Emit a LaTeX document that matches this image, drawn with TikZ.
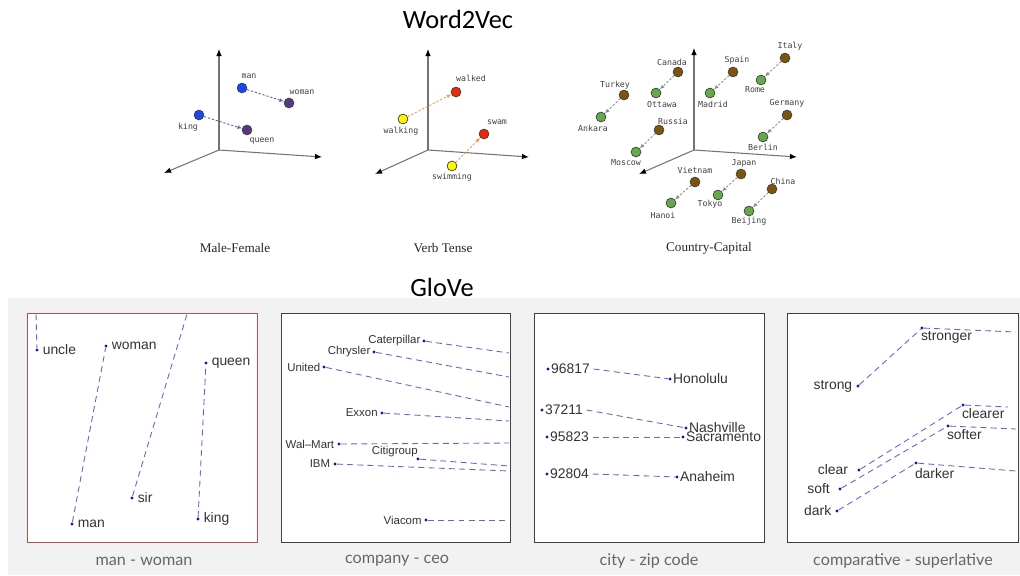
\documentclass[tikz,border=0pt]{standalone}
\usepackage{fontspec}
\setmainfont{Liberation Sans}
\newfontfamily\titlefont{Carlito}
\newfontfamily\wmono{DejaVu Sans Mono}
\newfontfamily\capfont{Liberation Serif}
\newfontfamily\gcapfont{Lato}
\usepackage{xcolor}
\usepackage{tikz}
\usetikzlibrary{arrows.meta, positioning}
\definecolor{W2VBlue}{RGB}{25,70,245}
\definecolor{W2VPurple}{RGB}{85,55,130}
\definecolor{W2VArrowPurple}{RGB}{110,90,175}
\definecolor{W2VYellow}{RGB}{255,245,0}
\definecolor{W2VRed}{RGB}{240,40,10}
\definecolor{W2VOrange}{RGB}{240,150,80}
\definecolor{W2VGreen}{RGB}{100,170,70}
\definecolor{W2VBrown}{RGB}{125,85,10}
\definecolor{GloVeLine}{RGB}{100,100,210}
\definecolor{GloVeDot}{RGB}{20,20,170}
\definecolor{GloVeBack}{RGB}{242,242,242}
\definecolor{GloVeRed}{RGB}{185,80,75}

\begin{document}
\begin{tikzpicture}[
    x=0.02cm, y=-0.02cm,
    axis/.style={draw=black!55, line width=0.6pt, -{Latex[length=4pt, width=3.2pt, color=black]}},
    wdot/.style={circle, draw=black!75, line width=0.4pt, minimum size=5.6pt, inner sep=0pt},
    wlabel/.style={font=\wmono\fontsize{4.7}{5.5}\selectfont, text=black!75, inner sep=0pt},
    warrow/.style={line width=0.5pt, dash pattern=on 1.3pt off 1pt, -{Latex[length=2.6pt, width=2.2pt]}},
    carrow/.style={warrow, draw=black!45},
    wcap/.style={font=\capfont\fontsize{7.5}{9}\selectfont, text=black!85},
    wtitle/.style={font=\titlefont\fontsize{15}{18}\selectfont},
    gbox/.style={draw=black!75, fill=white, line width=0.5pt},
    gdot/.style={circle, fill=GloVeDot, minimum size=1.8pt, inner sep=0pt},
    gline/.style={draw=GloVeLine, line width=0.5pt, dash pattern=on 3.4pt off 2.4pt},
    glabel/.style={font=\fontsize{7.9}{9}\selectfont, text=black!80, inner sep=0pt},
    gsmall/.style={font=\fontsize{6.5}{8}\selectfont, text=black!80, inner sep=0pt},
    gcap/.style={font=\gcapfont\fontsize{9.2}{11}\selectfont, text=black!60}
]
\useasboundingbox (0,0) rectangle (1020,575);
\fill[GloVeBack] (8,298) rectangle (1020,575);

\node[wtitle] (w2v) at (458,19) {Word2Vec};
\node[wtitle] (glove) at (442,287) {GloVe};

% Male-Female
\coordinate (o1) at (219,150);
\draw[axis] (o1) -- ++(0,-101);
\draw[axis] (o1) -- ++(103,7);
\draw[axis] (o1) -- ++(-55,23);
\node[wdot, fill=W2VBlue] (man) at (242,88) {};
\node[wdot, fill=W2VPurple] (woman) at (289,103) {};
\node[wdot, fill=W2VBlue] (king) at (199,115) {};
\node[wdot, fill=W2VPurple] (queen) at (247,130) {};
\node[wlabel] at (249,76) {man};
\node[wlabel] at (302,92) {woman};
\node[wlabel] at (188,127) {king};
\node[wlabel] at (262,141) {queen};
\draw[warrow, W2VArrowPurple] (man) -- (woman);
\draw[warrow, W2VArrowPurple] (king) -- (queen);
\node[wcap] (capMF) at (235,248) {Male-Female};

% Verb Tense
\coordinate (o2) at (428,150);
\draw[axis] (o2) -- ++(0,-101);
\draw[axis] (o2) -- ++(101,7);
\draw[axis] (o2) -- ++(-53,24);
\node[wdot, fill=W2VRed] (walked) at (456,92) {};
\node[wdot, fill=W2VYellow] (walking) at (403,119) {};
\node[wdot, fill=W2VRed] (swam) at (484,134) {};
\node[wdot, fill=W2VYellow] (swimming) at (452,166) {};
\node[wlabel] at (471,78) {walked};
\node[wlabel] at (401,131) {walking};
\node[wlabel] at (497,122) {swam};
\node[wlabel] at (452,177) {swimming};
\draw[warrow, W2VOrange] (walking) -- (walked);
\draw[warrow, W2VOrange] (swimming) -- (swam);
\node[wcap] (capVT) at (443,248) {Verb Tense};

% Country-Capital
\coordinate (o3) at (694,150);
\draw[axis] (o3) -- ++(0,-102);
\draw[axis] (o3) -- ++(103,7);
\draw[axis] (o3) -- ++(-55,24);
\node[wdot, fill=W2VBrown] (canada) at (678,72) {};
\node[wdot, fill=W2VGreen] (ottawa) at (656,93) {};
\node[wdot, fill=W2VBrown] (turkey) at (624,95) {};
\node[wdot, fill=W2VGreen] (ankara) at (601,117) {};
\node[wdot, fill=W2VBrown] (spain) at (733,72) {};
\node[wdot, fill=W2VGreen] (madrid) at (710,93) {};
\node[wdot, fill=W2VBrown] (italy) at (785,58) {};
\node[wdot, fill=W2VGreen] (rome) at (761,80) {};
\node[wdot, fill=W2VBrown] (germany) at (787,115) {};
\node[wdot, fill=W2VGreen] (berlin) at (763,137) {};
\node[wdot, fill=W2VBrown] (russia) at (659,130) {};
\node[wdot, fill=W2VGreen] (moscow) at (636,152) {};
\node[wdot, fill=W2VBrown] (vietnam) at (695,182) {};
\node[wdot, fill=W2VGreen] (hanoi) at (671,203) {};
\node[wdot, fill=W2VBrown] (japan) at (741,174) {};
\node[wdot, fill=W2VGreen] (tokyo) at (718,195) {};
\node[wdot, fill=W2VBrown] (china) at (772,189) {};
\node[wdot, fill=W2VGreen] (beijing) at (749,211) {};
\node[wlabel] at (672,62) {Canada};
\node[wlabel] at (662,104) {Ottawa};
\node[wlabel] at (615,85) {Turkey};
\node[wlabel] at (593,128) {Ankara};
\node[wlabel] at (737,60) {Spain};
\node[wlabel] at (713,104) {Madrid};
\node[wlabel] at (790,46) {Italy};
\node[wlabel] at (755,90) {Rome};
\node[wlabel] at (787,103) {Germany};
\node[wlabel] at (763,147) {Berlin};
\node[wlabel] at (673,121) {Russia};
\node[wlabel] at (626,163) {Moscow};
\node[wlabel] at (695,170) {Vietnam};
\node[wlabel] at (663,215) {Hanoi};
\node[wlabel] at (744,163) {Japan};
\node[wlabel] at (710,204) {Tokyo};
\node[wlabel] at (783,181) {China};
\node[wlabel] at (749,221) {Beijing};
\draw[carrow] (canada) -- (ottawa);
\draw[carrow] (turkey) -- (ankara);
\draw[carrow] (spain) -- (madrid);
\draw[carrow] (italy) -- (rome);
\draw[carrow] (germany) -- (berlin);
\draw[carrow] (russia) -- (moscow);
\draw[carrow] (vietnam) -- (hanoi);
\draw[carrow] (japan) -- (tokyo);
\draw[carrow] (china) -- (beijing);
\node[wcap] (capCC) at (709,248) {Country-Capital};

% man - woman
\draw[gbox, draw=GloVeRed] (27,313) rectangle (257,542);
\coordinate (uncleEnd) at (36,314);
\coordinate (sirEnd) at (187,314);
\node[gdot] (uncle) at (37,350) {};
\node[gdot] (gwoman) at (106,346) {};
\node[gdot] (gman) at (72,524) {};
\node[gdot] (sir) at (132,498) {};
\node[gdot] (gqueen) at (206,363) {};
\node[gdot] (gking) at (198,519) {};
\node[glabel, right=2pt of uncle] {uncle};
\node[glabel, right=2pt of gwoman] {woman};
\node[glabel, right=2pt of gman] {man};
\node[glabel, right=2pt of sir] {sir};
\node[glabel, right=2pt of gqueen] {queen};
\node[glabel, right=2pt of gking] {king};
\draw[gline] (uncleEnd) -- (uncle);
\draw[gline] (gman) -- (gwoman);
\draw[gline] (sir) -- (sirEnd);
\draw[gline] (gking) -- (gqueen);
\node[gcap] (capMW) at (144,561) {man - woman};

% company - ceo
\draw[gbox] (281,313) rectangle (510,542);
\node[gdot] (caterpillar) at (424,341) {};
\node[gdot] (chrysler) at (374,352) {};
\node[gdot] (united) at (324,367) {};
\node[gdot] (exxon) at (382,413) {};
\node[gdot] (walmart) at (339,444) {};
\node[gdot] (citigroup) at (418,459) {};
\node[gdot] (ibm) at (335,464) {};
\node[gdot] (viacom) at (426,520) {};
\coordinate (caterpillarEnd) at (509,353);
\coordinate (chryslerEnd) at (509,377);
\coordinate (unitedEnd) at (509,407);
\coordinate (exxonEnd) at (509,421);
\coordinate (walmartEnd) at (509,443);
\coordinate (citigroupEnd) at (509,466);
\coordinate (ibmEnd) at (509,471);
\coordinate (viacomEnd) at (509,520);
\node[gsmall, left=0.8pt of caterpillar] {Caterpillar};
\node[gsmall, left=0.8pt of chrysler] {Chrysler};
\node[gsmall, left=0.8pt of united] {United};
\node[gsmall, left=1.2pt of exxon] {Exxon};
\node[gsmall, left=1.5pt of walmart] {Wal--Mart};
\node[gsmall, anchor=south east] at (citigroup.north) {Citigroup};
\node[gsmall, left=1.5pt of ibm] {IBM};
\node[gsmall, left=1.2pt of viacom] {Viacom};
\draw[gline] (caterpillar) -- (caterpillarEnd);
\draw[gline] (chrysler) -- (chryslerEnd);
\draw[gline] (united) -- (unitedEnd);
\draw[gline] (exxon) -- (exxonEnd);
\draw[gline] (walmart) -- (walmartEnd);
\draw[gline] (citigroup) -- (citigroupEnd);
\draw[gline] (ibm) -- (ibmEnd);
\draw[gline] (viacom) -- (viacomEnd);
\node[gcap] (capCE) at (397,561) {company - ceo};

% city - zip code
\draw[gbox] (534,313) rectangle (764,542);
\node[gdot] (d96817) at (548,369) {};
\node[gdot] (d37211) at (542,410) {};
\node[gdot] (d95823) at (547,437) {};
\node[gdot] (d92804) at (547,474) {};
\node[gdot] (honolulu) at (670,379) {};
\node[gdot] (nashville) at (686,428) {};
\node[gdot] (sacramento) at (683,437) {};
\node[gdot] (anaheim) at (677,477) {};
\node[glabel, right=0.5pt of d96817] (z96817) {96817};
\node[glabel, right=0.5pt of d37211] (z37211) {37211};
\node[glabel, right=0.5pt of d95823] (z95823) {95823};
\node[glabel, right=0.5pt of d92804] (z92804) {92804};
\node[glabel, right=0.5pt of honolulu] {Honolulu};
\node[glabel, right=0.5pt of nashville] {Nashville};
\node[glabel, right=0.5pt of sacramento] {Sacramento};
\node[glabel, right=0.5pt of anaheim] {Anaheim};
\draw[gline] ([xshift=2pt]z96817.east) -- (honolulu);
\draw[gline] ([xshift=2pt]z37211.east) -- (nashville);
\draw[gline] ([xshift=2pt]z95823.east) -- (sacramento);
\draw[gline] ([xshift=2pt]z92804.east) -- (anaheim);
\node[gcap] (capCZ) at (649,561) {city - zip code};

% comparative - superlative
\draw[gbox] (787,313) rectangle (1018,542);
\node[gdot] (strong) at (858,386) {};
\node[gdot] (stronger) at (922,328) {};
\node[gdot] (clear) at (859,470) {};
\node[gdot] (clearer) at (963,405) {};
\node[gdot] (soft) at (840,489) {};
\node[gdot] (softer) at (948,426) {};
\node[gdot] (dark) at (837,511) {};
\node[gdot] (darker) at (916,463) {};
\coordinate (strongerEnd) at (1016,332);
\coordinate (clearerEnd) at (1008,407);
\coordinate (softerEnd) at (1016,429);
\coordinate (darkerEnd) at (1016,471);
\node[glabel, left=2pt of strong] {strong};
\node[glabel, anchor=north west] at ([yshift=-1pt]stronger.south west) {stronger};
\node[glabel, left=5pt of clear] {clear};
\node[glabel, anchor=north west] at ([yshift=-1pt]clearer.south west) {clearer};
\node[glabel, left=4.5pt of soft] {soft};
\node[glabel, anchor=north west] at ([yshift=-1pt]softer.south west) {softer};
\node[glabel, left=2pt of dark] {dark};
\node[glabel, anchor=north west] at ([yshift=-2pt]darker.south west) {darker};
\draw[gline] (strong) -- (stronger) -- (strongerEnd);
\draw[gline] (clear) -- (clearer) -- (clearerEnd);
\draw[gline] (soft) -- (softer) -- (softerEnd);
\draw[gline] (dark) -- (darker) -- (darkerEnd);
\node[gcap] (capCS) at (903,561) {comparative - superlative};
\end{tikzpicture}
\end{document}
